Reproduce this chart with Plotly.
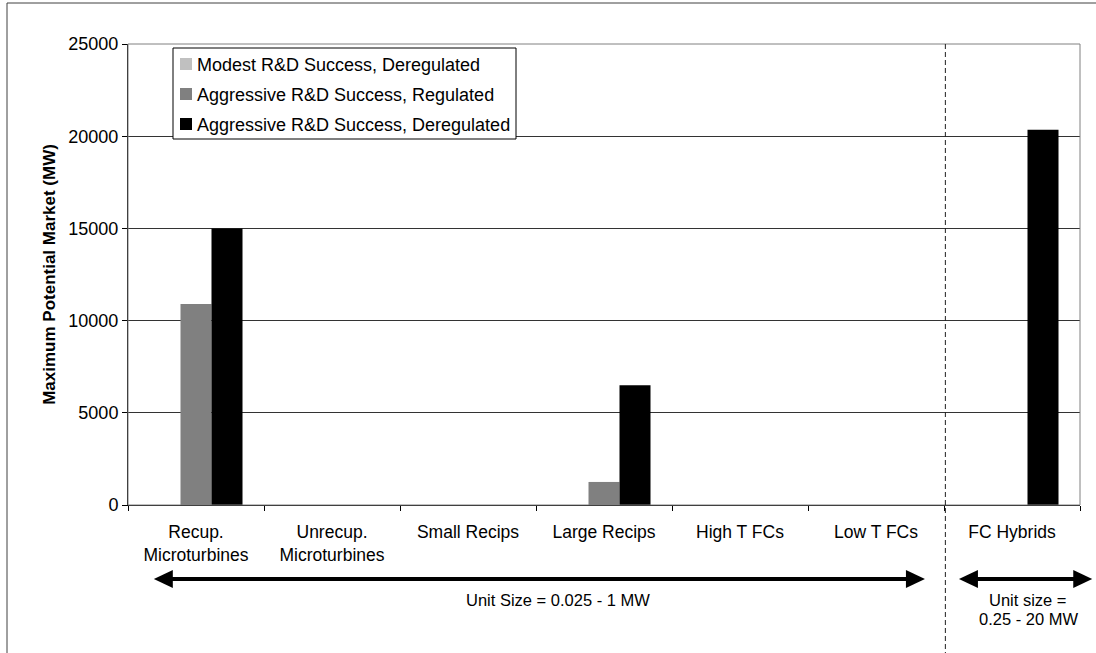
import plotly.graph_objects as go

# ---- data ----
categories = ["Recup.<br>Microturbines", "Unrecup.<br>Microturbines", "Small Recips",
              "Large Recips", "High T FCs", "Low T FCs", "FC Hybrids"]
series_names = ["Modest R&D Success, Deregulated",
                "Aggressive R&D Success, Regulated",
                "Aggressive R&D Success, Deregulated"]
modest_dereg = [0, 0, 0, 0, 0, 0, 0]
aggressive_reg = [10900, 0, 0, 1250, 0, 0, 0]
aggressive_dereg = [15000, 0, 0, 6500, 0, 0, 20350]
series_values = [modest_dereg, aggressive_reg, aggressive_dereg]
series_colors = ["#C0C0C0", "#808080", "#000000"]
y_ticks = [0, 5000, 10000, 15000, 20000, 25000]
y_tick_labels = ["0", "5000", "10000", "15000", "20000", "25000"]
range_labels = ["Unit Size = 0.025 - 1 MW", "Unit size =", "0.25 - 20 MW"]

# ---- layout geometry ----
W, H = 1096, 653
L, R, T, B = 128, 16, 44, 148
PW, PH = W - L - R, H - T - B
FONT = "Liberation Sans, Arial, sans-serif"
NCAT = len(categories)


def px_x(p):
    return (p - L) / PW


def px_y(p):
    return (H - B - p) / PH


def cat_x(c):
    # category-axis position -> paper fraction
    return (c + 0.5) / NCAT


fig = go.Figure()
for name, vals, col in zip(series_names, series_values, series_colors):
    fig.add_trace(go.Bar(x=categories, y=vals, name=name, marker_color=col,
                         marker_line_width=0, showlegend=False))

shapes = []
# outer frame
shapes.append(dict(type="rect", xref="paper", yref="paper",
                   x0=px_x(7), x1=px_x(W + 10), y0=px_y(H + 10), y1=px_y(3),
                   line=dict(color="#404040", width=1), layer="below"))
# plot area border (top/right gray)
shapes.append(dict(type="rect", xref="paper", yref="paper", x0=0, x1=1, y0=0, y1=1,
                   line=dict(color="#808080", width=1)))
# dashed separator
shapes.append(dict(type="line", xref="paper", yref="paper", x0=cat_x(5.51), x1=cat_x(5.51),
                   y0=1, y1=px_y(H + 10), line=dict(color="#202020", width=1, dash="5px,3px")))

# double-headed arrows
arrow_y = px_y(579)
hx = 17 / PW
for xa, xb in [(cat_x(-0.31), cat_x(5.36)), (cat_x(5.61), cat_x(6.59))]:
    shapes.append(dict(type="line", xref="paper", yref="paper", x0=xa + hx, x1=xb - hx,
                       y0=arrow_y, y1=arrow_y, line=dict(color="black", width=4)))
    shapes.append(dict(type="path", xref="paper", yref="paper", xsizemode="pixel", ysizemode="pixel",
                       xanchor=xa, yanchor=arrow_y, path="M0,0 L19,9 L19,-9 Z",
                       fillcolor="black", line=dict(color="black", width=0)))
    shapes.append(dict(type="path", xref="paper", yref="paper", xsizemode="pixel", ysizemode="pixel",
                       xanchor=xb, yanchor=arrow_y, path="M0,0 L-19,9 L-19,-9 Z",
                       fillcolor="black", line=dict(color="black", width=0)))

# manual legend box
shapes.append(dict(type="rect", xref="paper", yref="paper",
                   x0=px_x(173), x1=px_x(516), y0=px_y(139), y1=px_y(48),
                   line=dict(color="black", width=1), fillcolor="white"))
annotations = []
row_centers = [64, 94, 124]
for name, col, rc in zip(series_names, series_colors, row_centers):
    shapes.append(dict(type="rect", xref="paper", yref="paper",
                       x0=px_x(180), x1=px_x(192), y0=px_y(rc + 6), y1=px_y(rc - 6),
                       line=dict(width=0), fillcolor=col))
    annotations.append(dict(text=name, xref="paper", yref="paper", x=px_x(195), y=px_y(rc + 1),
                            xanchor="left", yanchor="middle", showarrow=False,
                            font=dict(size=18, color="black", family=FONT)))

annotations.append(dict(text=range_labels[0], xref="paper", yref="paper", x=cat_x(2.66), y=px_y(600),
                        xanchor="center", yanchor="middle", showarrow=False,
                        font=dict(size=16.5, color="black", family=FONT)))
annotations.append(dict(text=range_labels[1], xref="paper", yref="paper", x=cat_x(6.12), y=px_y(600),
                        xanchor="center", yanchor="middle", showarrow=False,
                        font=dict(size=16.5, color="black", family=FONT)))
annotations.append(dict(text=range_labels[2], xref="paper", yref="paper", x=cat_x(6.12), y=px_y(619),
                        xanchor="center", yanchor="middle", showarrow=False,
                        font=dict(size=16.5, color="black", family=FONT)))

fig.update_layout(
    width=W, height=H,
    margin=dict(l=L, r=R, t=T, b=B, autoexpand=False),
    paper_bgcolor="white", plot_bgcolor="white",
    barmode="group", bargap=0.316, bargroupgap=0,
    font=dict(family=FONT, size=17, color="black"),
    shapes=shapes, annotations=annotations,
    xaxis=dict(type="category", range=[-0.5, 6.5], tickson="boundaries",
               ticks="outside", ticklen=5, tickcolor="black", showgrid=False,
               showline=True, linecolor="black", linewidth=1, ticklabelstandoff=11,
               tickfont=dict(size=17.5, family=FONT, color="black"), automargin=False),
    yaxis=dict(range=[0, 25000], tickvals=y_ticks, ticktext=y_tick_labels,
               ticks="outside", ticklen=5,
               tickcolor="black", showgrid=True, gridcolor="#333333", gridwidth=1,
               showline=True, linecolor="black", linewidth=1, zeroline=False,
               tickfont=dict(size=18, family=FONT, color="black"),
               title=dict(text="<b>Maximum Potential Market (MW)</b>",
                          font=dict(size=17, family=FONT, color="black"), standoff=8),
               automargin=False),
)

fig.write_html("out.html", config={"displayModeBar": False},
               post_script="document.body.style.margin='0';")
